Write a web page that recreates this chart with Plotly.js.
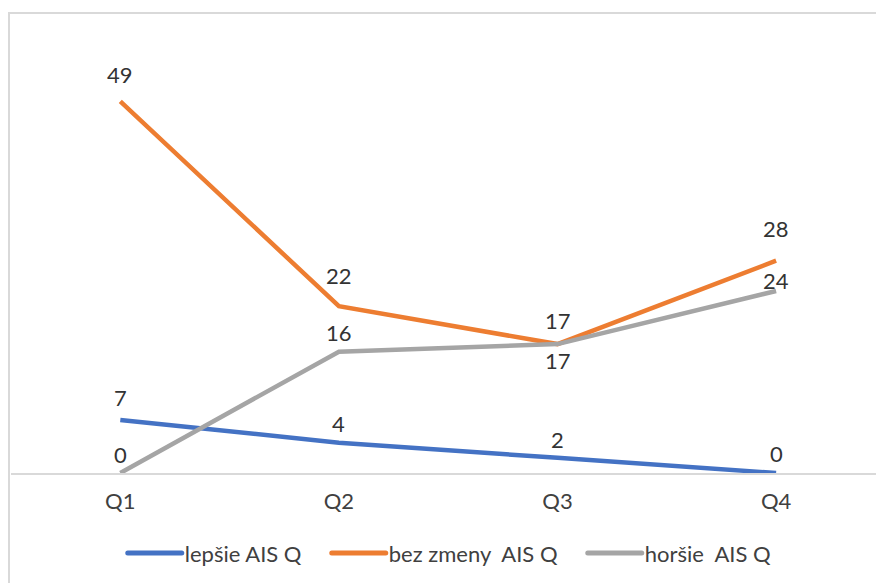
<!DOCTYPE html>
<html>
<head>
<meta charset="utf-8">
<script src="https://cdn.plot.ly/plotly-3.0.1.min.js"></script>
<style>
html,body{margin:0;padding:0;background:#fff;}
#wrap{position:relative;width:876px;height:583px;overflow:hidden;}
#frame{position:absolute;left:8px;top:12px;width:880px;height:600px;border-left:2px solid #d9d9d9;border-top:2px solid #d9d9d9;pointer-events:none;}
#chart{position:absolute;left:0;top:0;width:876px;height:583px;}
</style>
</head>
<body>
<div id="wrap"><div id="chart"></div><div id="frame"></div></div>
<script>
const categories = ["Q1", "Q2", "Q3", "Q4"];
const lepsie = [7, 4, 2, 0];
const bezZmeny = [49, 22, 17, 28];
const horsie = [0, 16, 17, 24];
const seriesNames = ["lepšie AIS Q", "bez zmeny\u00a0 AIS Q", "horšie\u00a0 AIS Q"];

// label placement (pixels above the point; negative = below)
const labelShiftLepsie = [22, 19, 18, 20];
const labelShiftBez = [27, 31, 24, 32];
const labelShiftHorsie = [19, 19, -16, 11];
// legend entry widths (px)
const legendWidths = [133, 185, 141];

const FONT = "Lato, 'Open Sans', sans-serif";
const colors = ["#4472C4", "#ED7D31", "#A5A5A5"];
const series = [lepsie, bezZmeny, horsie];
const shifts = [labelShiftLepsie, labelShiftBez, labelShiftHorsie];

const traces = series.map((vals, i) => ({
  x: categories, y: vals, name: seriesNames[i], mode: "lines",
  legendwidth: legendWidths[i],
  line: {color: colors[i], width: 4.5}, cliponaxis: false
}));

const annotations = [];
series.forEach((vals, i) => {
  vals.forEach((v, j) => {
    annotations.push({
      x: categories[j], y: v, xref: "x", yref: "y", text: String(v), showarrow: false,
      xanchor: "center", yanchor: "middle", yshift: shifts[i][j],
      font: {family: FONT, size: 22, color: "#333333"}
    });
  });
});

const layout = {
  width: 876, height: 583,
  margin: {l: 11, r: 0, t: 18, b: 110},
  paper_bgcolor: "#fff", plot_bgcolor: "#fff",
  showlegend: true,
  legend: {orientation: "h", x: 0.1246, xanchor: "left", y: -0.13, yanchor: "top",
           font: {family: FONT, size: 22, color: "#404040"},
           traceorder: "normal", itemwidth: 56},
  annotations: annotations,
  xaxis: {type: "category", range: [-0.5, 3.457], showgrid: false, zeroline: false,
          showline: true, linecolor: "#d9d9d9", linewidth: 2, ticks: "",
          ticklabelstandoff: 8,
          tickfont: {family: FONT, size: 22, color: "#404040"}},
  yaxis: {range: [0, 60], showgrid: false, zeroline: false, showline: false, showticklabels: false, ticks: ""}
};

Plotly.newPlot("chart", traces, layout, {displayModeBar: false, staticPlot: true}).then(gd => {
  gd.querySelectorAll(".legendlines path").forEach(p => {
    p.setAttribute("d", "M9,0h54");
    p.style.strokeWidth = "5px";
    p.style.strokeLinecap = "round";
  });
});
</script>
</body>
</html>
